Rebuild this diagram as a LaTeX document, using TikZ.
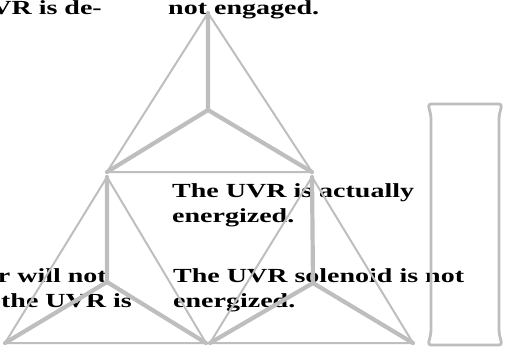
\documentclass[tikz,border=0pt]{standalone}
\usepackage{fontspec}
\newfontfamily\notefont[FakeStretch=1.4]{Liberation Serif}
\definecolor{edge}{RGB}{190,190,190}
\tikzstyle{note} = [font=\notefont\bfseries\fontsize{20}{25}\selectfont, align=left, inner sep=0pt, text=black]
\tikzstyle{rim} = [draw=edge, line width=2pt, line join=round, line cap=round]
\tikzstyle{rib} = [draw=edge, line width=4.2pt, line cap=round]
% one pyramid seen from above: apex, centre, left and right foot
\newcommand{\pyramid}[4]{%
	\draw[rib] (#2) -- (#1) (#2) -- (#3) (#2) -- (#4);
	\draw[rim] (#3) -- (#1) -- (#4) -- cycle;
}

\begin{document}
\begin{tikzpicture}[x=1pt,y=-1pt]
	\useasboundingbox (0,0) rectangle (505,351);
	\clip (0,0) rectangle (505,351);
	
	% text
	\node [note, anchor=base east] (upl) at (102,14) {VR is de-};
	\node [note, anchor=base west] (upr) at (168,14) {not engaged.};
	\node [note, anchor=north west] (actual) at (172,183) {The UVR is actually\\energized.};
	\node [note, anchor=base east] (lowa) at (107,282) {r will not};
	\node [note, anchor=base east] (lowb) at (132,307) {the UVR is};
	\node [note, anchor=north west] (solenoid) at (173,268) {The UVR solenoid is not\\energized.};
	
	% pyramids
	\coordinate (ta) at (208,13);   \coordinate (tc) at (208,110);
	\coordinate (tl) at (107,172);  \coordinate (tr) at (312,172);
	\coordinate (la) at (107,177);  \coordinate (lc) at (107,282);
	\coordinate (ll) at (5,343);    \coordinate (lr) at (206,343);
	\coordinate (ra) at (312,177);  \coordinate (rc) at (313,283);
	\coordinate (rl) at (210,343);  \coordinate (rr) at (413,343);
	\pyramid{ta}{tc}{tl}{tr}
	\pyramid{la}{lc}{ll}{lr}
	\pyramid{ra}{rc}{rl}{rr}
	
	% post
	\draw[rim, line width=2.8pt, rounded corners=3pt] (428,104) -- (502,104) -- (499,116) -- (499,333)
		-- (502,345) -- (428,345) -- (431,333) -- (431,116) -- cycle;
\end{tikzpicture}
\end{document}
